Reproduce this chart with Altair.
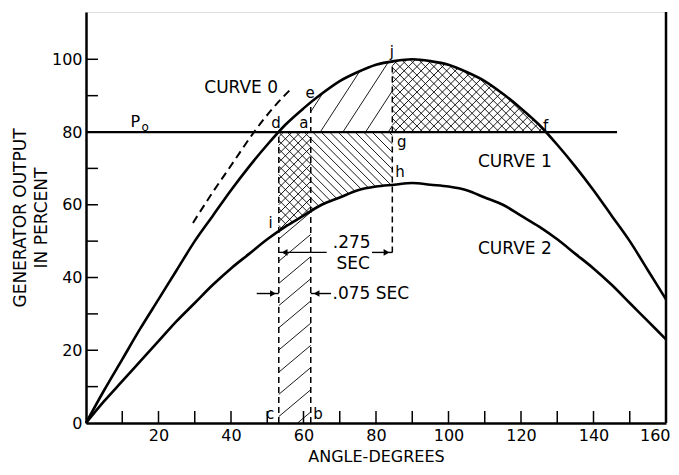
import numpy as np
import pandas as pd
import altair as alt

# ---------------- data ----------------
angles = list(range(0, 165, 5))
curve1 = [0, 9, 17.5, 26, 34, 42, 50, 57, 64, 70.5, 76.5, 82, 86.5, 90.5, 94, 96.5,
          98.5, 99.5, 100, 99.5, 98.5, 96.5, 94, 90.5, 86.5, 82, 76.5, 70.5, 64, 57,
          50, 42, 34]
curve2 = [0, 6, 11.5, 17, 22.5, 28, 33, 38, 42.5, 46.5, 50.5, 54, 57, 60, 62, 64,
          65, 65.5, 66, 65.5, 65, 64, 62, 60, 57, 54, 50.5, 46.5, 42.5, 38, 33, 28, 23]
curve0_angle = [29.5, 35, 40.5, 46, 51.5, 57]
curve0_value = [55, 63.5, 71.5, 79.5, 86.5, 92.3]

p0_value = 80
p0_end = 146.5
b_angle = 62        # clearing angle after .075 sec
j_angle = 84.5      # angle after .275 sec
bracket275_y = 46.9
bracket075_y = 35.6
bracket275_gap = [66.4, 78.9]
bracket075_tails = [47.1, 67.6]

x_domain = [0, 160]
y_domain = [0, 113]
x_ticks = list(range(10, 160, 10))
y_ticks = list(range(10, 110, 10))
x_labels = list(range(20, 161, 20))
y_labels = list(range(0, 101, 20))
tick_len = 3.3

label_text = ["CURVE 0", "CURVE 1", "CURVE 2", "e", "d", "a", "j", "g", "h", "f",
              "i", "c", "b", ".275", "SEC", "P", "o"]
label_x = [42.8, 118.3, 118.3, 61.8, 52.4, 60.1, 84.4, 87.1, 86.6, 126.8,
           50.9, 50.8, 64.0, 73.3, 73.7, 13.6, 16.3]
label_y = [92.1, 71.8, 47.8, 90.7, 82.5, 82.5, 102.0, 77.3, 69.1, 81.7,
           55.0, 2.5, 2.5, 49.6, 43.7, 82.8, 81.5]
label_size = [17, 17, 17, 15, 15, 15, 15, 15, 15, 15,
              15, 15, 15, 17, 17, 16, 12]

# ---------------- derived geometry ----------------
W, H = 580, 411
sx = W / (x_domain[1] - x_domain[0])
sy = H / (y_domain[1] - y_domain[0])

ang = np.array(angles, float)
c1v = np.array(curve1, float)
c2v = np.array(curve2, float)
d_angle = float(np.interp(p0_value, c1v[:19], ang[:19]))
f_angle = float(np.interp(p0_value, c1v[18:][::-1], ang[18:][::-1]))


def c1(x):
    return np.interp(x, ang, c1v)


def c2(x):
    return np.interp(x, ang, c2v)


def const(v):
    return lambda x: np.full_like(np.asarray(x, float), v)


def hatch(xa, xb, lo, hi, angle_deg, spacing_px):
    th = np.radians(angle_deg)
    m = np.tan(th)
    Xs = np.linspace(xa * sx, xb * sx, 800)
    lo_p = lo(Xs / sx) * sy
    hi_p = hi(Xs / sx) * sy
    step = spacing_px / abs(np.cos(th))
    cvals = np.concatenate([lo_p - m * Xs, hi_p - m * Xs])
    k0 = int(np.floor(cvals.min() / step))
    k1 = int(np.ceil(cvals.max() / step))
    segs = []
    for k in range(k0, k1 + 1):
        c = k * step
        Y = m * Xs + c
        inside = (Y >= lo_p - 1e-9) & (Y <= hi_p + 1e-9)
        idx = np.where(inside)[0]
        if len(idx) < 2:
            continue
        runs = np.split(idx, np.where(np.diff(idx) > 1)[0] + 1)
        for r in runs:
            if len(r) < 2:
                continue
            i0, i1 = r[0], r[-1]
            segs.append(dict(x=Xs[i0] / sx, y=Y[i0] / sy, x2=Xs[i1] / sx, y2=Y[i1] / sy))
    return segs


hatch_rows = []
hatch_rows += hatch(d_angle, b_angle, c2, const(p0_value), 45, 6)
hatch_rows += hatch(d_angle, b_angle, c2, const(p0_value), -45, 6)
hatch_rows += hatch(b_angle, j_angle, c2, const(p0_value), -45, 6)
hatch_rows += hatch(d_angle, b_angle, const(0), c2, 40, 17)
hatch_rows += hatch(b_angle, j_angle, const(p0_value), c1, 57, 19)
hatch_rows += hatch(j_angle, f_angle, const(p0_value), c1, 45, 6)
hatch_rows += hatch(j_angle, f_angle, const(p0_value), c1, -45, 6)
hatch_df = pd.DataFrame(hatch_rows)

curves_df = pd.concat([
    pd.DataFrame({"angle": angles, "value": curve1, "series": "1"}),
    pd.DataFrame({"angle": angles, "value": curve2, "series": "2"}),
])
curve0_df = pd.DataFrame({"angle": curve0_angle, "value": curve0_value})

dash_df = pd.DataFrame({
    "x": [d_angle, b_angle, j_angle],
    "y": [0, 0, bracket275_y],
    "y2": [p0_value, float(c1(b_angle)), float(c1(j_angle))],
})

solid_h_df = pd.DataFrame({
    "x": [0, d_angle, bracket275_gap[1], bracket075_tails[0], b_angle],
    "x2": [p0_end, bracket275_gap[0], j_angle, d_angle, bracket075_tails[1]],
    "y": [p0_value, bracket275_y, bracket275_y, bracket075_y, bracket075_y],
    "w": [2.2, 1.4, 1.4, 1.4, 1.4],
})

arrow_df = pd.DataFrame({
    "x": [d_angle + 1.6, j_angle - 1.6, d_angle - 1.6, b_angle + 1.6],
    "y": [bracket275_y, bracket275_y, bracket075_y, bracket075_y],
    "shape": ["triangle-left", "triangle-right", "triangle-right", "triangle-left"],
})

xtick_df = pd.DataFrame({"x": x_ticks, "y": 0, "y2": tick_len})
ytick_df = pd.DataFrame({"y": y_ticks, "x": 0, "x2": tick_len})
frame_df = pd.DataFrame({"x": [x_domain[1]], "y": [y_domain[0]], "y2": [y_domain[1]]})

text_df = pd.DataFrame({"x": label_x, "y": label_y, "text": label_text, "size": label_size})
text075_df = pd.DataFrame({"x": [bracket075_tails[1] + 0.4], "y": [bracket075_y], "text": [".075 SEC"]})

# ---------------- chart ----------------
FONT = "DejaVu Sans"
xscale = alt.Scale(domain=x_domain, nice=False, zero=False)
yscale = alt.Scale(domain=y_domain, nice=False, zero=False)
xaxis = alt.Axis(values=x_labels, ticks=False, grid=False, domainWidth=2.5, domainColor="black",
                 labelFont=FONT, labelFontSize=16, labelColor="black", labelPadding=4,
                 labelFlush=True, labelFlushOffset=4,
                 title="ANGLE-DEGREES", titleFont=FONT, titleFontSize=16,
                 titleFontWeight="normal", titleColor="black", titlePadding=5)
yaxis = alt.Axis(values=y_labels, ticks=False, grid=False, domainWidth=2.5, domainColor="black",
                 labelFont=FONT, labelFontSize=16, labelColor="black", labelPadding=4,
                 title=["GENERATOR OUTPUT", "IN PERCENT"], titleFont=FONT, titleFontSize=17,
                 titleFontWeight="normal", titleColor="black", titlePadding=1, titleLineHeight=21)


def X(f):
    return alt.X(f, type="quantitative", scale=xscale, axis=xaxis)


def Y(f):
    return alt.Y(f, type="quantitative", scale=yscale, axis=yaxis)


hatch_layer = alt.Chart(hatch_df).mark_rule(color="black", strokeWidth=0.9).encode(
    x=X("x"), y=Y("y"), x2="x2", y2="y2")

curves_layer = alt.Chart(curves_df).mark_line(color="black", strokeWidth=2.6,
                                              interpolate="monotone").encode(
    x=X("angle"), y=Y("value"), detail="series")

curve0_layer = alt.Chart(curve0_df).mark_line(color="black", strokeWidth=2,
                                              strokeDash=[8, 5], interpolate="monotone").encode(
    x=X("angle"), y=Y("value"))

dash_layer = alt.Chart(dash_df).mark_rule(color="black", strokeWidth=1.5, strokeDash=[6, 4]).encode(
    x=X("x"), y=Y("y"), y2="y2")

solid_layer = alt.Chart(solid_h_df).mark_rule(color="black").encode(
    x=X("x"), x2="x2", y=Y("y"), strokeWidth=alt.StrokeWidth("w:Q", scale=None))

arrow_layer = alt.Chart(arrow_df).mark_point(filled=True, color="black", size=45, opacity=1).encode(
    x=X("x"), y=Y("y"), shape=alt.Shape("shape:N", scale=None))

xtick_layer = alt.Chart(xtick_df).mark_rule(color="black", strokeWidth=1.5).encode(
    x=X("x"), y=Y("y"), y2="y2")
ytick_layer = alt.Chart(ytick_df).mark_rule(color="black", strokeWidth=1.5).encode(
    y=Y("y"), x=X("x"), x2="x2")
frame_layer = alt.Chart(frame_df).mark_rule(color="black", strokeWidth=2.5).encode(
    x=X("x"), y=Y("y"), y2="y2")

text_layer = alt.Chart(text_df).mark_text(font=FONT, color="black", align="center",
                                          baseline="middle").encode(
    x=X("x"), y=Y("y"), text="text", size=alt.Size("size:Q", scale=None))
text075_layer = alt.Chart(text075_df).mark_text(font=FONT, color="black", align="left",
                                                baseline="middle", fontSize=17).encode(
    x=X("x"), y=Y("y"), text="text")

chart = alt.layer(
    hatch_layer, curves_layer, curve0_layer, dash_layer, solid_layer, arrow_layer,
    xtick_layer, ytick_layer, frame_layer, text_layer, text075_layer
).properties(
    width=W, height=H,
    autosize=alt.AutoSizeParams(type="none"),
    padding={"left": 78, "top": 4, "right": 5, "bottom": 44},
).configure_view(stroke=None).configure(background="white")

chart.save("out.html", embed_options={"renderer": "svg", "actions": False})
